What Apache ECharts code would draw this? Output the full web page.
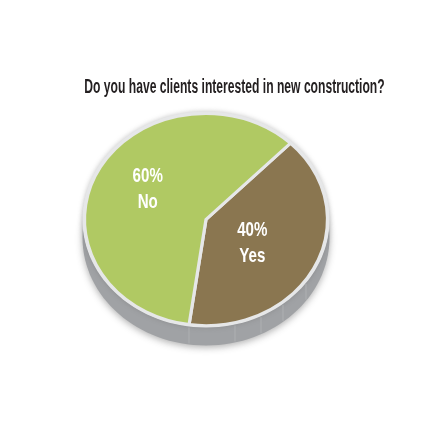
<!DOCTYPE html>
<html><head><meta charset="utf-8">
<style>html,body{margin:0;padding:0;background:#fff}#c{width:430px;height:430px}</style>
<script src="https://cdn.jsdelivr.net/npm/echarts@6/dist/echarts.min.js"></script>
</head><body><div id="c"></div>
<script>
const categories = ['Yes', 'No'];
const values = [40, 60];
const valueLabels = ['40%', '60%'];
const sliceColors = ['#8A7650', '#B0C963'];
const titleText = 'Do you have clients interested in new construction?';
const firstSliceAngle = 44;
const seamXs = [189, 235, 261, 283, 306];

const FONT = '"Liberation Sans",sans-serif';
const cx = 206, cy = 219.5, rx = 121.5, ry = 106, depth = 18;
const yScale = ry / rx;
const labelPlace = [{radius: 53.5, angle: 120}, {radius: 68, angle: 301}];
const total = values.reduce((a, b) => a + b, 0);

function renderSlice(params, api) {
  const i = params.dataIndex;
  let before = 0;
  for (let k = 0; k < i; k++) before += values[k];
  const start = firstSliceAngle + before / total * 360;
  const end = start + api.value(0) / total * 360;
  const toRad = a => (a - 90) * Math.PI / 180;
  const p = labelPlace[i];
  const a = toRad(p.angle);
  const lx = cx + Math.cos(a) * p.radius;
  const ly = cy + Math.sin(a) * p.radius * yScale;
  return {
    type: 'group',
    children: [
      {
        type: 'sector',
        shape: {cx: cx, cy: cy, r: rx, r0: 0, startAngle: toRad(start), endAngle: toRad(end), clockwise: true},
        originX: cx, originY: cy, scaleY: yScale,
        style: {fill: sliceColors[i], stroke: '#E6E7E8', lineWidth: 3.2, lineJoin: 'miter'}
      },
      {
        type: 'text', z2: 10, x: lx, y: ly, scaleX: 0.72,
        style: {
          text: valueLabels[i] + '\n' + categories[i],
          fill: '#fff', font: 'bold 21px ' + FONT, lineHeight: 26,
          align: 'center', verticalAlign: 'middle'
        }
      }
    ]
  };
}

const seams = seamXs.map(x => {
  const top = cy + (ry + 2) * Math.sqrt(1 - Math.pow((x - cx) / (rx + 2), 2));
  return {
    type: 'line', z: 3,
    shape: {x1: x, y1: top + 1, x2: x, y2: top + depth - 1},
    style: {stroke: '#AEB0B2', lineWidth: 1}
  };
});

const chart = echarts.init(document.getElementById('c'), null, {renderer: 'canvas'});
chart.setOption({
  animation: false,
  backgroundColor: '#fff',
  graphic: {elements: [
    {type: 'text', z: 6, x: 234.5, y: 87, scaleX: 0.606,
     style: {text: titleText, fill: '#231F20', font: 'bold 20px ' + FONT, align: 'center', verticalAlign: 'middle'}},
    {type: 'ellipse', z: 0, shape: {cx: cx, cy: cy + depth, rx: rx + 2, ry: ry + 2},
     style: {fill: '#A0A2A5', shadowBlur: 7, shadowColor: 'rgba(60,60,60,0.4)', shadowOffsetY: 2}},
    {type: 'ellipse', z: 2, shape: {cx: cx, cy: cy, rx: rx + 2, ry: ry + 2},
     style: {fill: '#E6E7E8', shadowBlur: 5, shadowColor: 'rgba(110,110,110,0.4)'}}
  ].concat(seams)},
  series: [{
    type: 'custom', coordinateSystem: 'none', z: 5,
    renderItem: renderSlice,
    data: values.map((v, i) => ({name: categories[i], value: [v]}))
  }]
});
</script></body></html>
